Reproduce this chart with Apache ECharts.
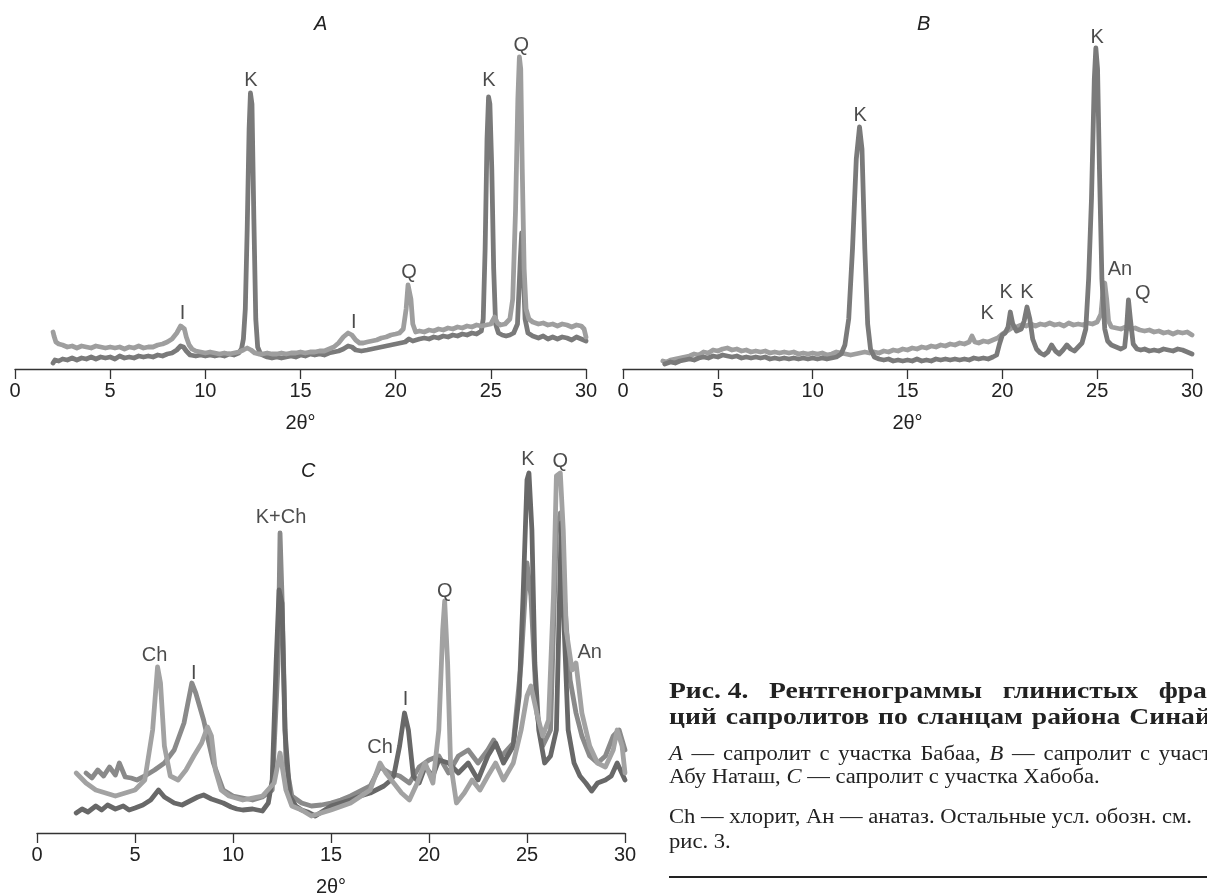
<!DOCTYPE html>
<html>
<head>
<meta charset="utf-8">
<script src="https://cdn.jsdelivr.net/npm/echarts@6/dist/echarts.min.js"></script>
<style>
html,body{margin:0;padding:0;background:#fff;}
#c{width:1207px;height:894px;}
</style>
</head>
<body>
<div id="c"></div>
<script>
// ---- Data: intensity (arbitrary units) vs 2θ (degrees) ----
const xTicks = [0, 5, 10, 15, 20, 25, 30];

// Panel A
const A_dark = [[2.0,6],[2.1,9],[2.3,8],[2.5,10],[2.75,9],[3.0,11],[3.25,9],[3.5,11],[3.75,10],[4.0,12],[4.25,10],[4.5,12],[4.75,11],[5.0,12],[5.25,10],[5.5,13],[5.75,11],[6.0,12],[6.25,11],[6.5,13],[6.75,12],[7.0,13],[7.25,12],[7.5,14],[7.75,13],[8.0,15],[8.25,16],[8.5,19],[8.7,23],[8.85,22],[9.0,18],[9.2,14],[9.5,13],[9.75,14],[10.0,13],[10.25,14],[10.5,13],[10.75,14],[11.0,13],[11.25,15],[11.5,14],[11.75,16],[11.9,20],[12.0,30],[12.1,60],[12.2,140],[12.3,240],[12.37,276],[12.45,265],[12.55,150],[12.65,50],[12.75,22],[12.9,15],[13.0,13],[13.25,12],[13.5,11],[13.75,12],[14.0,11],[14.25,12],[14.5,13],[14.75,12],[15.0,14],[15.25,13],[15.5,15],[15.75,14],[16.0,15],[16.25,14],[16.5,16],[16.75,17],[17.0,18],[17.25,20],[17.5,23],[17.7,22],[17.9,19],[18.2,18],[18.5,19],[18.75,20],[19.0,21],[19.25,22],[19.5,23],[19.75,24],[20.0,25],[20.25,26],[20.5,27],[20.7,30],[20.9,28],[21.0,29],[21.25,30],[21.5,31],[21.75,30],[22.0,32],[22.25,31],[22.5,33],[22.75,32],[23.0,34],[23.25,33],[23.5,35],[23.75,34],[24.0,36],[24.25,35],[24.5,38],[24.6,50],[24.7,120],[24.8,230],[24.88,272],[24.95,265],[25.05,200],[25.15,100],[25.25,45],[25.4,36],[25.6,34],[25.8,33],[26.0,34],[26.2,36],[26.4,45],[26.55,110],[26.62,136],[26.7,100],[26.8,50],[26.95,36],[27.2,33],[27.5,31],[27.75,33],[28.0,30],[28.25,32],[28.5,30],[28.75,32],[29.0,31],[29.25,29],[29.5,32],[29.75,30],[30.0,28]];
const A_light = [[2.0,37],[2.05,33],[2.15,27],[2.3,25],[2.5,24],[2.75,22],[3.0,23],[3.25,21],[3.5,23],[3.75,22],[4.0,21],[4.25,23],[4.5,22],[4.75,21],[5.0,22],[5.25,21],[5.5,22],[5.75,20],[6.0,22],[6.25,21],[6.5,23],[6.75,21],[7.0,22],[7.25,22],[7.5,24],[7.75,25],[8.0,27],[8.25,30],[8.5,36],[8.7,43],[8.8,44],[8.9,40],[9.0,32],[9.15,24],[9.3,20],[9.5,18],[9.75,17],[10.0,16],[10.25,17],[10.5,16],[10.75,15],[11.0,16],[11.25,15],[11.5,16],[11.75,17],[12.0,19],[12.2,21],[12.4,19],[12.6,16],[12.8,15],[13.0,15],[13.25,16],[13.5,15],[13.75,15],[14.0,16],[14.25,15],[14.5,16],[14.75,16],[15.0,17],[15.25,16],[15.5,17],[15.75,17],[16.0,18],[16.25,18],[16.5,20],[16.75,22],[17.0,26],[17.25,32],[17.5,36],[17.7,34],[17.9,29],[18.1,26],[18.3,26],[18.5,27],[18.75,28],[19.0,29],[19.25,31],[19.5,32],[19.75,34],[20.0,35],[20.2,36],[20.4,40],[20.55,60],[20.65,84],[20.72,86],[20.8,70],[20.9,45],[21.05,37],[21.25,38],[21.5,37],[21.75,39],[22.0,38],[22.25,40],[22.5,39],[22.75,41],[23.0,40],[23.25,42],[23.5,41],[23.75,43],[24.0,42],[24.25,44],[24.5,43],[24.75,44],[25.0,45],[25.2,52],[25.35,46],[25.5,44],[25.75,45],[26.0,50],[26.15,70],[26.3,160],[26.42,270],[26.5,312],[26.57,300],[26.65,200],[26.75,100],[26.85,60],[27.0,50],[27.2,47],[27.5,45],[27.75,46],[28.0,44],[28.25,45],[28.5,43],[28.75,45],[29.0,44],[29.25,42],[29.5,44],[29.75,43],[29.9,40],[30.0,32]];
const A_labels = [[8.8,56,'I'],[12.4,289,'K'],[17.8,47,'I'],[20.7,97,'Q'],[24.9,289,'K'],[26.6,324,'Q']];

// Panel B
const B_dark = [[2.2,5],[2.5,7],[2.75,6],[3.0,8],[3.25,9],[3.5,10],[3.75,9],[4.0,11],[4.25,12],[4.5,11],[4.75,13],[5.0,12],[5.25,14],[5.5,13],[5.75,12],[6.0,13],[6.25,11],[6.5,12],[6.75,11],[7.0,12],[7.25,11],[7.5,12],[7.75,10],[8.0,11],[8.25,10],[8.5,11],[8.75,10],[9.0,11],[9.25,10],[9.5,11],[9.75,10],[10.0,11],[10.25,10],[10.5,11],[10.75,10],[11.0,11],[11.25,12],[11.5,15],[11.7,24],[11.9,50],[12.1,120],[12.3,210],[12.47,242],[12.6,220],[12.75,120],[12.9,45],[13.05,20],[13.25,12],[13.5,10],[13.75,9],[14.0,10],[14.25,8],[14.5,9],[14.75,8],[15.0,9],[15.25,8],[15.5,10],[15.75,8],[16.0,9],[16.25,8],[16.5,10],[16.75,9],[17.0,10],[17.25,9],[17.5,10],[17.75,9],[18.0,10],[18.25,9],[18.5,11],[18.75,10],[19.0,11],[19.25,10],[19.5,12],[19.7,14],[19.85,25],[20.0,34],[20.15,36],[20.3,42],[20.42,57],[20.55,45],[20.75,38],[21.0,40],[21.15,48],[21.3,62],[21.45,50],[21.6,30],[21.8,20],[22.0,16],[22.2,14],[22.4,17],[22.6,24],[22.8,18],[23.0,15],[23.2,19],[23.4,24],[23.6,20],[23.8,18],[24.0,22],[24.2,26],[24.4,40],[24.55,90],[24.7,170],[24.85,290],[24.93,321],[25.02,300],[25.12,200],[25.25,90],[25.4,40],[25.55,28],[25.75,24],[26.0,22],[26.25,20],[26.45,22],[26.55,40],[26.65,69],[26.75,50],[26.9,25],[27.1,20],[27.3,19],[27.5,20],[27.75,18],[28.0,19],[28.25,18],[28.5,20],[28.75,19],[29.0,18],[29.25,20],[29.5,19],[29.75,17],[30.0,15]];
const B_light = [[2.1,8],[2.3,7],[2.5,9],[2.75,10],[3.0,11],[3.25,12],[3.5,13],[3.75,15],[4.0,14],[4.25,17],[4.5,16],[4.75,19],[5.0,18],[5.25,20],[5.5,21],[5.75,19],[6.0,20],[6.25,18],[6.5,19],[6.75,17],[7.0,18],[7.25,17],[7.5,18],[7.75,16],[8.0,17],[8.25,16],[8.5,17],[8.75,16],[9.0,17],[9.25,15],[9.5,16],[9.75,15],[10.0,16],[10.25,15],[10.5,16],[10.75,14],[11.0,15],[11.25,17],[11.5,16],[11.75,15],[12.0,14],[12.25,15],[12.5,16],[12.75,17],[13.0,16],[13.25,17],[13.5,16],[13.75,18],[14.0,17],[14.25,19],[14.5,18],[14.75,20],[15.0,19],[15.25,21],[15.5,20],[15.75,22],[16.0,21],[16.25,23],[16.5,22],[16.75,24],[17.0,23],[17.25,25],[17.5,24],[17.75,26],[18.0,25],[18.25,27],[18.4,33],[18.55,27],[18.75,26],[19.0,28],[19.25,27],[19.5,29],[19.75,31],[20.0,35],[20.25,38],[20.5,41],[20.75,42],[21.0,44],[21.25,43],[21.5,45],[21.75,43],[22.0,45],[22.25,44],[22.5,46],[22.75,44],[23.0,45],[23.25,43],[23.5,46],[23.75,44],[24.0,45],[24.25,44],[24.5,46],[24.75,45],[25.0,47],[25.2,55],[25.32,80],[25.4,86],[25.5,70],[25.6,48],[25.75,42],[26.0,41],[26.25,40],[26.5,42],[26.75,40],[27.0,41],[27.25,39],[27.5,38],[27.75,39],[28.0,37],[28.25,38],[28.5,36],[28.75,37],[29.0,35],[29.25,37],[29.5,36],[29.75,37],[30.0,34]];
const B_labels = [[12.5,254,'K'],[19.2,56,'K'],[20.2,77,'K'],[21.3,77,'K'],[25.0,332,'K'],[26.2,100,'An'],[27.4,76,'Q']];

// Panel C
const C_dark = [[2.0,20],[2.3,24],[2.6,21],[3.0,27],[3.3,23],[3.6,28],[4.0,24],[4.4,27],[4.7,23],[5.0,25],[5.4,28],[5.8,33],[6.2,43],[6.5,36],[7.0,30],[7.4,28],[7.8,32],[8.2,36],[8.5,38],[8.9,34],[9.2,32],[9.5,30],[9.9,26],[10.2,24],[10.5,23],[11.0,24],[11.5,22],[11.8,30],[12.0,53],[12.2,170],[12.35,243],[12.5,230],[12.65,103],[12.9,37],[13.2,27],[13.5,23],[13.8,21],[14.2,17],[14.6,22],[15.0,27],[15.5,30],[16.0,33],[16.5,37],[17.0,40],[17.4,44],[17.7,47],[18.0,52],[18.2,57],[18.5,87],[18.75,120],[18.95,103],[19.2,57],[19.5,50],[19.8,66],[20.2,57],[20.5,73],[21.0,70],[21.5,60],[22.0,70],[22.5,53],[23.0,77],[23.4,90],[23.8,70],[24.3,87],[24.6,137],[24.8,237],[25.0,353],[25.1,360],[25.25,303],[25.4,170],[25.6,103],[25.9,70],[26.2,77],[26.5,103],[26.75,310],[26.9,203],[27.1,103],[27.4,70],[27.7,57],[28.0,50],[28.3,42],[28.6,50],[29.0,53],[29.3,57],[29.6,70],[30.0,53]];
const C_mid = [[2.5,60],[2.8,55],[3.1,63],[3.4,57],[3.7,66],[4.0,58],[4.2,70],[4.5,56],[4.8,55],[5.1,53],[5.5,57],[6.0,63],[6.5,70],[7.0,83],[7.5,110],[7.9,150],[8.1,140],[8.5,113],[9.0,70],[9.5,43],[10.0,37],[10.5,35],[11.0,33],[11.5,36],[12.0,43],[12.3,170],[12.4,300],[12.5,237],[12.7,70],[13.0,37],[13.5,30],[14.0,27],[14.5,28],[15.0,30],[15.5,33],[16.0,37],[16.5,42],[17.0,47],[17.5,66],[18.0,60],[18.5,57],[19.0,50],[19.5,66],[20.0,73],[20.5,77],[21.0,60],[21.5,77],[22.0,83],[22.5,70],[23.0,83],[23.3,93],[23.7,77],[24.3,90],[24.7,170],[25.0,270],[25.2,237],[25.5,120],[25.8,87],[26.2,103],[26.5,303],[26.7,320],[26.9,237],[27.2,153],[27.5,120],[27.8,97],[28.2,77],[28.6,70],[29.0,77],[29.4,97],[29.7,103],[30.0,83]];
const C_light = [[2.0,60],[2.5,50],[3.0,43],[3.5,40],[4.0,37],[4.5,40],[5.0,43],[5.5,53],[5.9,103],[6.15,166],[6.3,150],[6.5,87],[6.8,57],[7.2,53],[7.6,63],[8.0,77],[8.4,90],[8.7,106],[8.9,97],[9.1,63],[9.4,43],[9.8,37],[10.5,33],[11.5,37],[12.1,50],[12.4,80],[12.7,43],[13.0,27],[13.5,23],[14.0,17],[14.5,20],[15.0,23],[16.0,30],[17.0,43],[17.5,70],[17.8,60],[18.2,50],[18.6,40],[19.0,33],[19.4,50],[19.8,70],[20.2,50],[20.5,103],[20.7,203],[20.8,232],[20.95,170],[21.1,70],[21.4,30],[21.8,40],[22.2,53],[22.6,43],[23.0,57],[23.4,70],[23.8,53],[24.3,70],[24.7,103],[25.0,137],[25.2,147],[25.5,120],[25.8,97],[26.1,113],[26.35,237],[26.5,357],[26.7,360],[26.85,303],[27.0,203],[27.3,163],[27.5,170],[27.8,120],[28.2,87],[28.6,70],[29.0,66],[29.4,83],[29.6,103],[29.85,87],[30.0,60]];
const C_labels = [[6.0,178,'Ch'],[8.0,160,'I'],[12.45,316,'K+Ch'],[17.5,86,'Ch'],[18.8,134,'I'],[20.8,242,'Q'],[25.05,374,'K'],[26.7,372,'Q'],[28.2,181,'An']];

const panelTitles = ['A', 'B', 'C'];
const axisName = '2θ°';

// Caption text
const capLine1 = ['Рис. 4.', 'Рентгенограммы', 'глинистых', 'фрак-'];
const capLine2 = ['ций', 'сапролитов', 'по', 'сланцам', 'района', 'Синай-'];
const capLine3 = [['A','i'],['—','n'],['сапролит','n'],['с','n'],['участка','n'],['Бабаа,','n'],['B','i'],['—','n'],['сапролит','n'],['с','n'],['участка','n']];
const capLine4 = '{n|Абу Наташ, }{i|C}{n| — сапролит с участка Хабоба.}';
const capLine5 = 'Ch — хлорит, Ан — анатаз. Остальные усл. обозн. см.';
const capLine6 = 'рис. 3.';

// ---- Styles ----
const SANS = '"Liberation Sans", Arial, sans-serif';
const SERIF = '"Liberation Serif", "Times New Roman", serif';
const DARK = '#7a7a7a', LIGHT = '#9e9e9e', CDARK = '#686868', CMID = '#8a8a8a', CLIGHT = '#a2a2a2';
const BOLD_F = 'bold 23px ' + SERIF, BOLD_SX = 1.2;
const REG_F = '20px ' + SERIF, ITAL_F = 'italic 20px ' + SERIF, REG_SX = 1.13;
const COL_X0 = 669, COL_X1 = 1232;

const mctx = document.createElement('canvas').getContext('2d');
function textW(t, font){ mctx.font = font; return mctx.measureText(t).width; }
function justify(tokens, y, sx, x1){
  const ws = tokens.map(t => textW(t[0], t[1]) * sx);
  const total = ws.reduce((a,b)=>a+b, 0);
  const gap = (x1 - COL_X0 - total) / (tokens.length - 1);
  let x = COL_X0;
  return tokens.map((t, i) => {
    const el = {type:'text', x:x, y:y, scaleX:sx, scaleY:1,
      style:{text:t[0], font:t[1], fill:'#222', textVerticalAlign:'middle'}};
    x += ws[i] + gap;
    return el;
  });
}

function xAxisCfg(gi){
  return {
    type:'value', gridIndex:gi, min:0, max:30, interval:5,
    name: axisName, nameLocation:'middle', nameGap:44,
    nameTextStyle:{fontFamily:SANS, fontSize:20, color:'#222'},
    axisLine:{show:true, lineStyle:{color:'#333', width:1.3}},
    axisTick:{show:true, inside:false, length:10, lineStyle:{color:'#333', width:1.3}},
    axisLabel:{show:true, fontFamily:SANS, fontSize:20, color:'#222', margin:12,
      formatter: v => xTicks.indexOf(v) >= 0 ? String(v) : ''},
    splitLine:{show:false}
  };
}
function yAxisCfg(gi, max){
  return {type:'value', gridIndex:gi, min:0, max:max, show:false, splitLine:{show:false}};
}
function lineS(gi, data, color, z){
  return {type:'line', xAxisIndex:gi, yAxisIndex:gi, data:data, showSymbol:false, symbol:'none',
    lineStyle:{color:color, width:4.8, join:'round', cap:'round'}, z:z, silent:true, animation:false};
}
function labelS(gi, data){
  return {type:'scatter', xAxisIndex:gi, yAxisIndex:gi, data:data, symbolSize:1,
    itemStyle:{color:'rgba(0,0,0,0)'}, z:10, silent:true, animation:false,
    label:{show:true, position:'inside', formatter:p => p.data[2],
      fontFamily:SANS, fontSize:20, color:'#1e1e1e'}};
}

const chart = echarts.init(document.getElementById('c'), null, {renderer:'canvas'});

const caption = []
  .concat(justify(capLine1.map(w => [w, BOLD_F]), 692, BOLD_SX, COL_X1))
  .concat(justify(capLine2.map(w => [w, BOLD_F]), 718, BOLD_SX, 1220))
  .concat(justify(capLine3.map(w => [w[0], w[1] === 'i' ? ITAL_F : REG_F]), 755, REG_SX, COL_X1))
  .concat([
    {type:'text', x:COL_X0, y:778, scaleX:REG_SX, style:{text:capLine4, textVerticalAlign:'middle',
      rich:{n:{font:REG_F, fill:'#222'}, i:{font:ITAL_F, fill:'#222'}}}},
    {type:'text', x:COL_X0, y:818, scaleX:REG_SX, style:{text:capLine5, font:REG_F, fill:'#222', textVerticalAlign:'middle'}},
    {type:'text', x:COL_X0, y:843, scaleX:REG_SX, style:{text:capLine6, font:REG_F, fill:'#222', textVerticalAlign:'middle'}},
    {type:'line', shape:{x1:COL_X0, y1:877, x2:1207, y2:877}, style:{stroke:'#222', lineWidth:2}}
  ]);

const option = {
  backgroundColor:'#fff',
  animation:false,
  grid:[
    {left:15, right:621, top:0, bottom:525, containLabel:false, outerBoundsMode:'none'},
    {left:623, right:15, top:0, bottom:525, containLabel:false, outerBoundsMode:'none'},
    {left:37, right:582, top:433, bottom:61, containLabel:false, outerBoundsMode:'none'}
  ],
  xAxis:[xAxisCfg(0), xAxisCfg(1), xAxisCfg(2)],
  yAxis:[yAxisCfg(0,369), yAxisCfg(1,369), yAxisCfg(2,400)],
  series:[
    lineS(0, A_dark, DARK, 2),
    lineS(0, A_light, LIGHT, 3),
    labelS(0, A_labels),
    lineS(1, B_light, LIGHT, 2),
    lineS(1, B_dark, DARK, 3),
    labelS(1, B_labels),
    lineS(2, C_mid, CMID, 2),
    lineS(2, C_dark, CDARK, 3),
    lineS(2, C_light, CLIGHT, 4),
    labelS(2, C_labels)
  ],
  graphic:[
    {type:'text', left:314, top:14, style:{text:panelTitles[0], font:'italic 20px '+SANS, fill:'#222'}},
    {type:'text', left:917, top:14, style:{text:panelTitles[1], font:'italic 20px '+SANS, fill:'#222'}},
    {type:'text', left:301, top:461, style:{text:panelTitles[2], font:'italic 20px '+SANS, fill:'#222'}}
  ].concat(caption)
};
chart.setOption(option);
</script>
</body>
</html>
